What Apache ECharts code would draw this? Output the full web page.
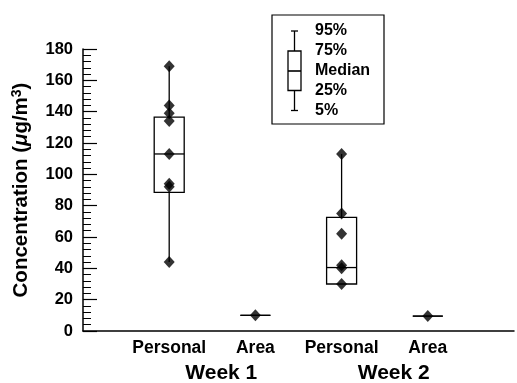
<!DOCTYPE html>
<html>
<head>
<meta charset="utf-8">
<script src="https://cdn.jsdelivr.net/npm/echarts@6/dist/echarts.min.js"></script>
<style>
html,body{margin:0;padding:0;background:#fff;}
#chart{width:517px;height:383px;}
</style>
</head>
<body>
<div id="chart"></div>
<script>
// ---- data ----
const categories = ['Personal', 'Area', 'Personal', 'Area'];
const weekLabels = ['Week 1', 'Week 2'];
const personalWeek1 = [169, 144, 139, 134, 113, 94, 92, 44];
const areaWeek1 = [10];
const personalWeek2 = [113, 75, 62, 42, 40, 30];
const areaWeek2 = [9.5];
// [min(5%), 25%, median, 75%, max(95%)]
const boxPersonalWeek1 = [44, 88.5, 113, 136.5, 169];
const boxAreaWeek1 = [10, 10, 10, 10, 10];
const boxPersonalWeek2 = [30, 30, 40.5, 72.5, 113];
const boxAreaWeek2 = [9.5, 9.5, 9.5, 9.5, 9.5];
const legendLabels = ['95%', '75%', 'Median', '25%', '5%'];
const yMin = 0, yMax = 180, yInterval = 20;

const FONT = "'Liberation Sans', Arial, Helvetica, sans-serif";
const allPoints = [personalWeek1, areaWeek1, personalWeek2, areaWeek2];
const allBoxes = [boxPersonalWeek1, boxAreaWeek1, boxPersonalWeek2, boxAreaWeek2];

const scatterData = [];
allPoints.forEach((arr, i) => arr.forEach(v => scatterData.push([i + 1, v])));
const boxData = allBoxes.map((b, i) => [i + 1].concat(b));

const chart = echarts.init(document.getElementById('chart'), null, {renderer: 'canvas'});

const BOX_W = 30;
function renderBox(params, api) {
  const x = api.value(0);
  const pMin = api.coord([x, api.value(1)]);
  const pQ1 = api.coord([x, api.value(2)]);
  const pMed = api.coord([x, api.value(3)]);
  const pQ3 = api.coord([x, api.value(4)]);
  const pMax = api.coord([x, api.value(5)]);
  const cx = pMin[0];
  const stroke = {stroke: '#000', lineWidth: 1.3, fill: null};
  return {
    type: 'group',
    children: [
      {type: 'line', shape: {x1: cx, y1: pMax[1], x2: cx, y2: pQ3[1]}, style: stroke},
      {type: 'line', shape: {x1: cx, y1: pQ1[1], x2: cx, y2: pMin[1]}, style: stroke},
      {type: 'rect', shape: {x: cx - BOX_W / 2, y: pQ3[1], width: BOX_W, height: pQ1[1] - pQ3[1]}, style: {stroke: '#000', lineWidth: 1.3, fill: 'rgba(0,0,0,0)'}},
      {type: 'line', shape: {x1: cx - BOX_W / 2, y1: pMed[1], x2: cx + BOX_W / 2, y2: pMed[1]}, style: stroke}
    ]
  };
}

chart.setOption({
  animation: false,
  backgroundColor: '#fff',
  textStyle: {fontFamily: FONT, color: '#000'},
  grid: {left: 83, right: 1, top: 49, bottom: 52, containLabel: false},
  xAxis: {
    type: 'value', min: 0, max: categories.length + 1, interval: 1,
    axisLine: {lineStyle: {color: '#000', width: 1.5}},
    axisTick: {show: false},
    splitLine: {show: false},
    axisLabel: {
      formatter: v => categories[v - 1] || '',
      fontFamily: FONT, fontSize: 17.5, fontWeight: 'bold', color: '#000', margin: 8,
      showMinLabel: true, showMaxLabel: true
    }
  },
  yAxis: {
    type: 'value', min: yMin, max: yMax, interval: yInterval,
    name: '{t|Concentration (}{mu|μ}{t|g/m}{sup|3}{t|)}',
    nameLocation: 'middle', nameGap: 50, nameRotate: 90,
    nameTextStyle: {
      rich: {
        t: {fontFamily: FONT, fontSize: 20.5, fontWeight: 'bold', color: '#000'},
        mu: {fontFamily: FONT, fontSize: 20.5, fontWeight: 'bold', fontStyle: 'italic', color: '#000'},
        sup: {fontFamily: FONT, fontSize: 14, fontWeight: 'bold', color: '#000', verticalAlign: 'top', padding: [0, 0, 9, 0]}
      }
    },
    axisLine: {show: true, lineStyle: {color: '#000', width: 1.5}},
    axisTick: {show: true, inside: true, length: 14, lineStyle: {color: '#000', width: 1.2}},
    minorTick: {show: true, splitNumber: 5, length: 8, lineStyle: {color: '#000', width: 1}},
    splitLine: {show: false},
    axisLabel: {fontFamily: FONT, fontSize: 16.5, fontWeight: 'bold', color: '#000', margin: 10}
  },
  series: [
    {
      type: 'custom', renderItem: renderBox, data: boxData, z: 2,
      encode: {x: 0, y: [1, 2, 3, 4, 5]}
    },
    {
      type: 'scatter', data: scatterData, symbol: 'diamond', symbolSize: [11, 12],
      itemStyle: {color: '#000'}, z: 3
    }
  ]
});

// week group labels + legend key
const weekGraphics = weekLabels.map((w, i) => {
  const mid = chart.convertToPixel({xAxisIndex: 0}, i * 2 + 1.5);
  return {
    type: 'text', x: mid + 9, y: 373,
    style: {text: w, font: 'bold 21px ' + FONT, fill: '#000', align: 'center', verticalAlign: 'middle'}
  };
});

const lg = {left: 272, top: 15, right: 384, bottom: 124, wx: 294.5, capW: 7, boxL: 288, boxR: 301};
const rowY = [31, 51, 71, 90.5, 110.5];
const legendChildren = [
  {type: 'rect', shape: {x: lg.left, y: lg.top, width: lg.right - lg.left, height: lg.bottom - lg.top}, style: {stroke: '#000', lineWidth: 1.2, fill: '#fff'}},
  {type: 'line', shape: {x1: lg.wx, y1: rowY[0], x2: lg.wx, y2: rowY[1]}, style: {stroke: '#000', lineWidth: 1.3}},
  {type: 'line', shape: {x1: lg.wx, y1: rowY[3], x2: lg.wx, y2: rowY[4]}, style: {stroke: '#000', lineWidth: 1.3}},
  {type: 'line', shape: {x1: lg.wx - lg.capW / 2, y1: rowY[0], x2: lg.wx + lg.capW / 2, y2: rowY[0]}, style: {stroke: '#000', lineWidth: 1.3}},
  {type: 'line', shape: {x1: lg.wx - lg.capW / 2, y1: rowY[4], x2: lg.wx + lg.capW / 2, y2: rowY[4]}, style: {stroke: '#000', lineWidth: 1.3}},
  {type: 'rect', shape: {x: lg.boxL, y: rowY[1], width: lg.boxR - lg.boxL, height: rowY[3] - rowY[1]}, style: {stroke: '#000', lineWidth: 1.3, fill: '#fff'}},
  {type: 'line', shape: {x1: lg.boxL, y1: rowY[2], x2: lg.boxR, y2: rowY[2]}, style: {stroke: '#000', lineWidth: 1.6}}
];
legendLabels.forEach((t, i) => legendChildren.push({
  type: 'text', x: 315, y: rowY[i],
  style: {text: t, font: 'bold 16px ' + FONT, fill: '#000', align: 'left', verticalAlign: 'middle'}
}));

chart.setOption({
  graphic: weekGraphics.concat([{type: 'group', children: legendChildren, z: 10}])
});
</script>
</body>
</html>
